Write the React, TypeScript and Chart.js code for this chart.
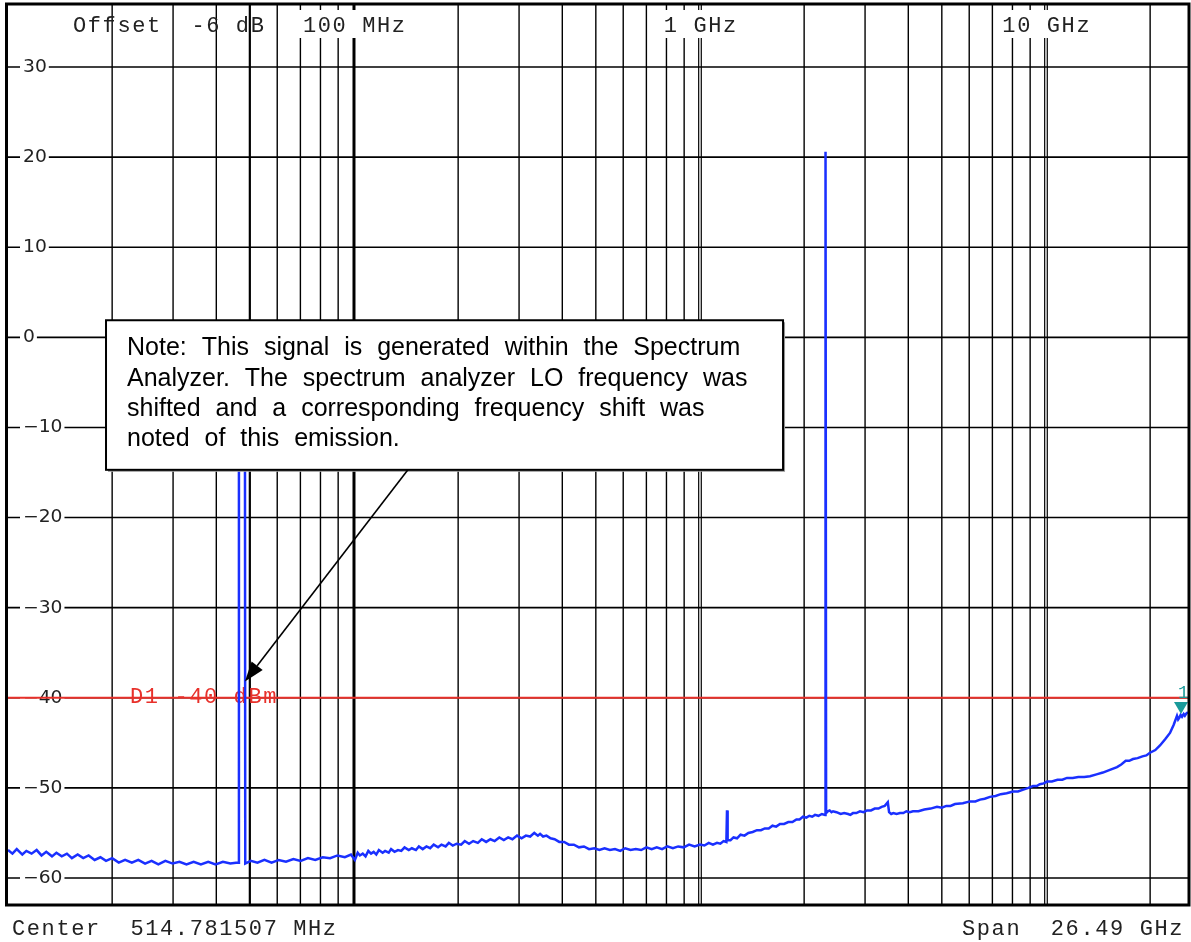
import React, { useEffect, useRef } from "react";
import { Chart, registerables } from "chart.js";

Chart.register(...registerables);

// ---- Data ----
const freqMHz = [
  10.0, 10.3, 10.6, 11.0, 11.3, 11.7, 12.1, 12.5, 12.9, 13.4, 13.8, 14.3, 14.8, 15.3, 15.9, 16.5, 17.1, 17.8, 18.5, 19.2,
  20.0, 20.9, 21.8, 22.8, 23.8, 24.9, 26.0, 27.2, 28.5, 29.9, 31.3, 32.8, 34.4, 36.1, 37.9, 39.8, 41.8, 43.9, 45.6, 46.4,
  46.5, 48.4, 48.5, 50.3, 52.6, 55.1, 57.8, 60.6, 63.6, 66.8, 70.1, 73.6, 77.3, 81.2, 85.3, 89.6, 94.1, 98.0, 100.6, 102.5,
  104, 106, 108, 110, 112, 114, 116, 118, 121, 123,
  126, 128, 131, 134, 137, 140, 144, 147, 151, 154,
  158, 162, 166, 170, 175, 179, 184, 188, 193, 198,
  204, 209, 215, 221, 228, 234, 241, 248, 255, 263,
  271, 279, 287, 296, 305, 314, 323, 332, 340, 345,
  352, 360, 370, 380, 392, 405, 418, 432, 447, 462,
  478, 495, 512, 530, 549, 568, 588, 608, 630, 652,
  676, 700, 725, 750, 777, 805, 835, 865, 897, 930,
  965, 1000, 1030, 1060, 1090, 1120, 1145, 1170, 1192, 1197,
  1202, 1225, 1250, 1280, 1310, 1345, 1380, 1420, 1461, 1500,
  1540, 1580, 1620, 1660, 1703, 1750, 1800, 1850, 1900, 1940,
  1985, 2030, 2070, 2110, 2150, 2200, 2250, 2300, 2303, 2309,
  2315, 2340, 2370, 2400, 2424, 2480, 2550, 2610, 2680, 2720,
  2768, 2830, 2900, 2970, 3039, 3120, 3200, 3280, 3350, 3420,
  3490, 3520, 3570, 3620, 3700, 3785, 3870, 3950, 4040, 4127,
  4280, 4450, 4640, 4842, 5000, 5150, 5300, 5458, 5750, 6031,
  6250, 6450, 6650, 6889, 7150, 7400, 7700, 8030, 8300, 8600,
  8900, 9171, 9400, 9600, 9850, 10070, 10400, 10800, 11150, 11500,
  11950, 12400, 12900, 13408, 14000, 14600, 15300, 16043, 16500, 17000,
  17400, 17844, 18400, 19000, 19500, 19978, 20700, 21354, 22100, 22826,
  23400, 23915, 24100, 24300, 24500, 24726, 25000, 25200, 25500, 25732,
];
const levelDbm = [
  -56.9, -57.3, -56.8, -57.4, -57.0, -57.3, -56.9, -57.5, -57.1, -57.6, -57.2, -57.6, -57.3, -57.8, -57.4, -57.8, -57.5, -58.0, -57.7, -58.1,
  -57.8, -58.3, -58.0, -58.3, -58.0, -58.4, -58.1, -58.5, -58.1, -58.4, -58.2, -58.5, -58.2, -58.5, -58.2, -58.5, -58.2, -58.4, -58.3, -58.3,
  -9.0, -9.0, -58.4, -58.1, -58.3, -58.0, -58.3, -58.0, -58.2, -57.9, -58.1, -57.8, -58.0, -57.7, -57.8, -57.5, -57.7, -57.4, -58.0, -57.2,
  -57.5, -57.3, -57.6, -57.0, -57.3, -57.1, -57.4, -56.9, -57.2, -57.0,
  -57.2, -56.8, -57.1, -56.9, -57.0, -56.6, -56.9, -56.7, -56.9, -56.5,
  -56.8, -56.5, -56.7, -56.3, -56.6, -56.3, -56.5, -56.1, -56.4, -56.2,
  -56.3, -55.9, -56.2, -55.9, -56.1, -55.7, -56.0, -55.7, -55.9, -55.5,
  -55.8, -55.5, -55.7, -55.3, -55.6, -55.3, -55.4, -55.0, -55.3, -55.1,
  -55.4, -55.3, -55.6, -55.7, -56.0, -56.0, -56.3, -56.3, -56.6, -56.5,
  -56.8, -56.7, -56.9, -56.7, -56.9, -56.8, -57.0, -56.7, -56.9, -56.8,
  -56.9, -56.6, -56.8, -56.6, -56.8, -56.5, -56.7, -56.5, -56.6, -56.3,
  -56.5, -56.3, -56.4, -56.1, -56.3, -56.1, -56.2, -55.9, -56.0, -52.5,
  -55.8, -55.8, -55.5, -55.6, -55.2, -55.3, -55.0, -54.9, -54.7, -54.7,
  -54.5, -54.5, -54.2, -54.3, -54.0, -54.0, -53.8, -53.8, -53.5, -53.5,
  -53.2, -53.3, -53.1, -53.2, -53.0, -53.1, -52.9, -53.0, 20.6, 20.6,
  -52.8, -52.6, -52.5, -52.7, -52.6, -52.7, -52.9, -52.8, -52.9, -53.0,
  -52.8, -52.8, -52.6, -52.7, -52.5, -52.5, -52.3, -52.3, -52.1, -52.0,
  -51.6, -52.7, -52.9, -52.8, -52.9, -52.8, -52.8, -52.6, -52.7, -52.6,
  -52.6, -52.4, -52.3, -52.1, -52.2, -52.0, -52.0, -51.8, -51.7, -51.5,
  -51.5, -51.3, -51.2, -51.0, -50.9, -50.7, -50.6, -50.4, -50.4, -50.2,
  -50.0, -49.8, -49.8, -49.6, -49.5, -49.3, -49.3, -49.1, -49.1, -48.9,
  -48.9, -48.8, -48.8, -48.7, -48.5, -48.3, -48.0, -47.7, -47.4, -47.0,
  -47.0, -46.8, -46.7, -46.5, -46.4, -46.1, -45.8, -45.3, -44.6, -43.9,
  -43.0, -42.0, -42.4, -42.2, -41.9, -42.1, -41.8, -42.0, -41.7, -41.6,
];

const yTickValues = [30, 20, 10, 0, -10, -20, -30, -40, -50, -60];
const yTickLabels = ["30", "20", "10", "0", "\u221210", "\u221220", "\u221230", "\u221240", "\u221250", "\u221260"];
const gridFreqs = [
  20, 30, 40, 50, 60, 70, 80, 90,
  100, 200, 300, 400, 500, 600, 700, 800, 900,
  1000, 2000, 3000, 4000, 5000, 6000, 7000, 8000, 9000,
  10000, 20000,
];
const freqLabelValues = [100, 1000, 10000];
const freqLabels = ["100 MHz", "1 GHz", "10 GHz"];
const headerText = "Offset  -6 dB";
const centerText = "Center  514.781507 MHz";
const spanText = "Span  26.49 GHz";
const displayLineDbm = -40;
const displayLineLabel = "D1 -40 dBm";
const markerFreqMHz = 24560;
const markerLevelDbm = -41.9;
const markerLabel = "1";
const noteLines = [
  "Note: This signal is generated within the Spectrum",
  "Analyzer. The spectrum analyzer LO frequency was",
  "shifted and a corresponding frequency shift was",
  "noted of this emission.",
];
// annotation anchors in data coordinates (MHz, dBm)
const noteBoxFreq = [19.2, 1738];
const noteBoxLevel = [1.9, -14.7];
const arrowFreq = [143.2, 48.4];
const arrowLevel = [-14.7, -38.2];

const X_MIN = 9.934;
const X_MAX = 25904;
const Y_MIN = -63;
const Y_MAX = 37;

const MONO = '"Liberation Mono", "Courier New", monospace';
const SANS = '"DejaVu Sans", sans-serif';
const ARIAL = '"Liberation Sans", Arial, sans-serif';
const TRACE = "#1a30ff";
const RED = "#e8302a";
const TEAL = "#1a9a9a";

function monoFont(ctx: CanvasRenderingContext2D) {
  ctx.font = `22px ${MONO}`;
  (ctx as any).letterSpacing = "1.6px";
}

function line(ctx: CanvasRenderingContext2D, x1: number, y1: number, x2: number, y2: number) {
  ctx.beginPath();
  ctx.moveTo(x1, y1);
  ctx.lineTo(x2, y2);
  ctx.stroke();
}

const spectrumPlugin = {
  id: "spectrum",
  beforeDraw(chart: any) {
    const ctx: CanvasRenderingContext2D = chart.ctx;
    ctx.save();
    ctx.fillStyle = "#fff";
    ctx.fillRect(0, 0, chart.width, chart.height);
    ctx.restore();
  },
  beforeDatasetsDraw(chart: any) {
    const ctx: CanvasRenderingContext2D = chart.ctx;
    const a = chart.chartArea;
    const xs = chart.scales.x;
    const ys = chart.scales.y;
    ctx.save();
    ctx.strokeStyle = "#000";

    // horizontal grid
    ctx.lineWidth = 1.6;
    yTickValues.forEach((v) => {
      const py = ys.getPixelForValue(v);
      line(ctx, a.left, py, a.right, py);
    });

    // vertical grid
    gridFreqs.forEach((f) => {
      const px = xs.getPixelForValue(f);
      if (f === 1000 || f === 10000) {
        ctx.lineWidth = 1.2;
        line(ctx, px - 1.3, a.top, px - 1.3, a.bottom);
        line(ctx, px + 1.3, a.top, px + 1.3, a.bottom);
      } else {
        ctx.lineWidth = f === 100 ? 3 : f === 50 ? 2.2 : 1.4;
        line(ctx, px, a.top, px, a.bottom);
      }
    });

    // frequency labels with white background
    monoFont(ctx);
    ctx.textBaseline = "alphabetic";
    ctx.textAlign = "left";
    freqLabelValues.forEach((f, i) => {
      const px = xs.getPixelForValue(f);
      const w = ctx.measureText(freqLabels[i]).width - 1.6;
      const left = px - w / 2;
      ctx.fillStyle = "#fff";
      ctx.fillRect(left - 4, 10, w + 8, 28);
      ctx.fillStyle = "#222";
      ctx.fillText(freqLabels[i], left, 32);
    });
    ctx.fillStyle = "#222";
    ctx.fillText(headerText, 73, 32);

    // y labels
    ctx.font = `17px ${SANS}`;
    (ctx as any).letterSpacing = "0px";
    ctx.textBaseline = "middle";
    yTickValues.forEach((v, i) => {
      const py = ys.getPixelForValue(v);
      const w = ctx.measureText(yTickLabels[i]).width * 1.1;
      ctx.fillStyle = "#fff";
      ctx.fillRect(20, py - 9, w + 5, 18);
      ctx.save();
      ctx.translate(23, py + 0.5);
      ctx.scale(1.1, 1);
      ctx.fillStyle = "#222";
      ctx.fillText(yTickLabels[i], 0, 0);
      ctx.restore();
    });

    // display line
    const ry = ys.getPixelForValue(displayLineDbm);
    ctx.strokeStyle = RED;
    ctx.lineWidth = 1.8;
    line(ctx, a.left, ry, a.right, ry);
    monoFont(ctx);
    ctx.textBaseline = "alphabetic";
    ctx.fillStyle = RED;
    ctx.fillText(displayLineLabel, 130, ry + 5);
    ctx.restore();
  },
  afterDatasetsDraw(chart: any) {
    const ctx: CanvasRenderingContext2D = chart.ctx;
    const a = chart.chartArea;
    const xs = chart.scales.x;
    const ys = chart.scales.y;
    ctx.save();

    // marker
    const mx = xs.getPixelForValue(markerFreqMHz);
    const my = ys.getPixelForValue(markerLevelDbm);
    ctx.fillStyle = TEAL;
    ctx.beginPath();
    ctx.moveTo(mx - 7, my - 13);
    ctx.lineTo(mx + 7, my - 13);
    ctx.lineTo(mx, my - 1);
    ctx.closePath();
    ctx.fill();
    ctx.font = `18px ${MONO}`;
    (ctx as any).letterSpacing = "0px";
    ctx.textAlign = "left";
    ctx.textBaseline = "alphabetic";
    ctx.fillText(markerLabel, mx - 3, my - 17);

    // note box
    const bx1 = xs.getPixelForValue(noteBoxFreq[0]);
    const bx2 = xs.getPixelForValue(noteBoxFreq[1]);
    const by1 = ys.getPixelForValue(noteBoxLevel[0]);
    const by2 = ys.getPixelForValue(noteBoxLevel[1]);
    ctx.fillStyle = "#9a9a9a";
    ctx.fillRect(bx1 + 2, by1 + 2, bx2 - bx1, by2 - by1);
    ctx.fillStyle = "#fff";
    ctx.fillRect(bx1, by1, bx2 - bx1, by2 - by1);
    ctx.strokeStyle = "#000";
    ctx.lineWidth = 2;
    ctx.strokeRect(bx1, by1, bx2 - bx1, by2 - by1);
    ctx.fillStyle = "#000";
    ctx.font = `25px ${ARIAL}`;
    const spaceW = ctx.measureText(" ").width + 8;
    noteLines.forEach((t, i) => {
      let cx = bx1 + 21;
      const cy = by1 + 35 + i * 30.3;
      t.split(" ").forEach((word) => {
        ctx.fillText(word, cx, cy);
        cx += ctx.measureText(word).width + spaceW;
      });
    });

    // arrow
    const ax1 = xs.getPixelForValue(arrowFreq[0]);
    const ay1 = ys.getPixelForValue(arrowLevel[0]);
    const ax2 = xs.getPixelForValue(arrowFreq[1]);
    const ay2 = ys.getPixelForValue(arrowLevel[1]);
    const ang = Math.atan2(ay2 - ay1, ax2 - ax1);
    const hl = 20, hw = 7;
    const bxp = ax2 - hl * Math.cos(ang);
    const byp = ay2 - hl * Math.sin(ang);
    ctx.strokeStyle = "#000";
    ctx.lineWidth = 1.6;
    line(ctx, ax1, ay1, bxp, byp);
    ctx.beginPath();
    ctx.moveTo(ax2, ay2);
    ctx.lineTo(bxp + hw * Math.sin(ang), byp - hw * Math.cos(ang));
    ctx.lineTo(bxp - hw * Math.sin(ang), byp + hw * Math.cos(ang));
    ctx.closePath();
    ctx.fill();

    // frame
    ctx.lineWidth = 3;
    ctx.strokeStyle = "#000";
    ctx.strokeRect(a.left - 0.5, a.top, a.right - a.left + 0.5, a.bottom - a.top);

    // bottom texts
    monoFont(ctx);
    ctx.fillStyle = "#222";
    ctx.fillText(centerText, 12, 935);
    ctx.fillText(spanText, 962, 935);
    ctx.restore();
  },
};

export default function App() {
  const ref = useRef<HTMLCanvasElement>(null);
  useEffect(() => {
    const chart = new Chart(ref.current as HTMLCanvasElement, {
      type: "line",
      data: {
        datasets: [
          {
            data: freqMHz.map((f, i) => ({ x: f, y: levelDbm[i] })),
            borderColor: TRACE,
            borderWidth: 2.5,
            pointRadius: 0,
            tension: 0,
            fill: false,
          },
        ],
      },
      options: {
        responsive: false,
        animation: false,
        devicePixelRatio: 1,
        events: [],
        layout: { padding: { left: 7, top: 4, right: 2, bottom: 37 } },
        scales: {
          x: { type: "logarithmic", min: X_MIN, max: X_MAX, display: false, bounds: "data" },
          y: { type: "linear", min: Y_MIN, max: Y_MAX, display: false },
        },
        plugins: { legend: { display: false }, tooltip: { enabled: false } },
      } as any,
      plugins: [spectrumPlugin as any],
    });
    return () => chart.destroy();
  }, []);
  return (
    <div style={{ position: "absolute", left: 0, top: 0, width: 1191, height: 942, background: "#fff" }}>
      <canvas ref={ref} width={1191} height={942} style={{ display: "block" }} />
    </div>
  );
}
